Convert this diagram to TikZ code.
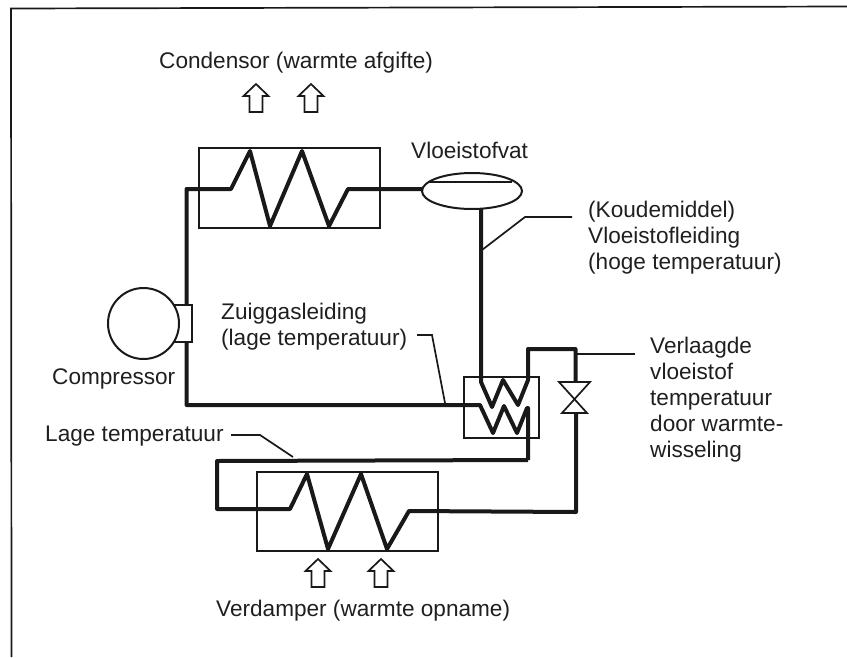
\documentclass[tikz,border=0pt]{standalone}
\usepackage{fontspec}
\setmainfont{Liberation Sans}
\usetikzlibrary{shapes.geometric}
\tikzset{
  pipe/.style={line width=4pt,line join=round,color=black!90},
  leader/.style={line width=1.7pt,color=black!90},
  unitbox/.style={draw=black!90,line width=2pt,inner sep=0pt},
  label/.style={inner sep=0pt,align=left,text=black!88,font=\fontsize{22.6}{26}\selectfont},
}
\begin{document}
\begin{tikzpicture}[x=1pt,y=-1pt]
  \useasboundingbox (0,0) rectangle (847,657);
  \draw[leader] (847,6.5) -- (11,8.5) -- (11.5,657);

  \node[unitbox,minimum width=181pt,minimum height=80pt] (condensor) at (289.5,188) {};
  \node[unitbox,minimum width=181pt,minimum height=79pt] (verdamper) at (347.5,511.5) {};
  \node[unitbox,minimum width=75pt,minimum height=61pt] (wisselaar) at (501.5,407.5) {};
  \node[unitbox,minimum width=22pt,minimum height=37pt] (stub) at (181,323.5) {};
  \node[unitbox,circle,fill=white,minimum size=71pt] (compressor) at (143.5,323.5) {};
  \node[unitbox,ellipse,minimum width=100pt,minimum height=36pt] (vat) at (472,191) {};

  \coordinate (pijpboven) at (186.5,305);
  \coordinate (pijponder) at (186.5,342);
  \coordinate (vatin) at (423,189);
  \coordinate (vatuit) at (481,209);
  \coordinate (klepboven) at (575.5,382);
  \coordinate (kleponder) at (576,413);
  \coordinate (tak) at (528,460);

  \draw[pipe] (pijpboven) -- (186.5,189) -- (231,189) -- (250,151) -- (270,226) -- (302,151) -- (329,226) -- (348,189) -- (vatin);
  \draw[pipe] (vatuit) -- (481,382) -- (492,407) -- (503,380) -- (518,405) -- (528,380) -- (528,349) -- (575.5,349) -- (klepboven);
  \draw[pipe] (pijponder) -- (186.5,405) -- (480,405) -- (493,433) -- (504,406) -- (517,433) -- (527,408) -- (528,408) -- (tak);
  \draw[pipe] (tak) -- (217,461) -- (217,509) -- (290,509) -- (307,474) -- (328,549) -- (361,474) -- (387,549) -- (409,511) -- (576,512) -- (kleponder);
  \draw[leader] (559,382) -- (590,382) -- (562,413) -- (587,413) -- cycle;

  \draw[leader] (428,182) -- (512,182);
  \draw[leader] (482,250) -- (525,217) -- (572,217);
  \draw[leader] (417,335) -- (432,335) -- (445,403);
  \draw[leader] (231,435) -- (260,435) -- (293,457);
  \draw[leader] (577,354) -- (635,354);

  \foreach \ax/\ay in {256/84,311/84,318/559,381/559}
    \draw[leader] (\ax,\ay) -- ++(12.5,12) -- ++(-6,0) -- ++(0,16) -- ++(-13,0) -- ++(0,-16) -- ++(-6,0) -- cycle;

  \node[label,anchor=west] (lcondensor) at (159,63) {Condensor (warmte afgifte)};
  \node[label,anchor=west] (lvat) at (411,150) {Vloeistofvat};
  \node[label,anchor=west] (lleiding) at (588,237.5) {(Koudemiddel)\\Vloeistofleiding\\(hoge temperatuur)};
  \node[label,anchor=west] (lzuig) at (221,327) {Zuiggasleiding\\(lage temperatuur)};
  \node[label,anchor=west] (lcomp) at (52,379) {Compressor};
  \node[label,anchor=west] (llaag) at (45,436) {Lage temperatuur};
  \node[label,anchor=west] (lverlaagd) at (650,400) {Verlaagde\\vloeistof\\temperatuur\\door warmte-\\wisseling};
  \node[label,anchor=west] (lverdamper) at (216,611) {Verdamper (warmte opname)};
\end{tikzpicture}
\end{document}
